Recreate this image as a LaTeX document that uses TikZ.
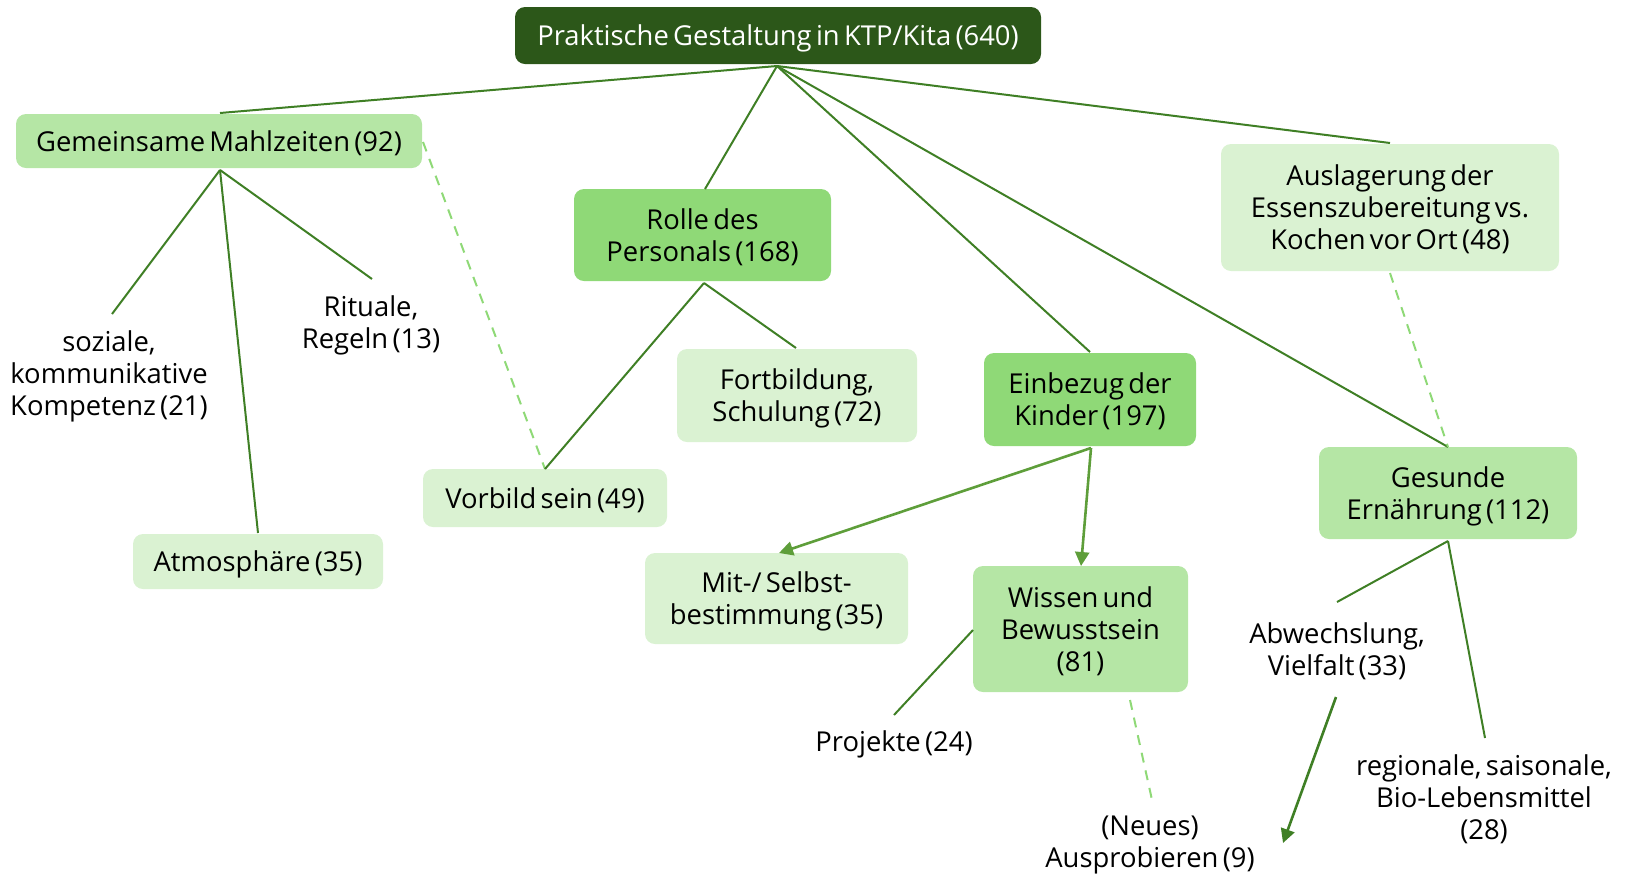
\documentclass[tikz,border=0pt]{standalone}
\usepackage{fontspec}
\setmainfont{Open Sans}[WordSpace=0.6]
\usetikzlibrary{arrows.meta}
\definecolor{rootfill}{HTML}{2C5719}
\definecolor{linecol}{HTML}{3F7F25}
\definecolor{medfill}{HTML}{8FD977}
\definecolor{lightfill}{HTML}{B5E6A5}
\definecolor{palefill}{HTML}{DAF2D2}
\definecolor{arrowcol}{HTML}{5E9E3A}
\definecolor{dashcol}{HTML}{8FD977}
\tikzset{
  box/.style={rounded corners=5pt, align=center, inner sep=0pt,
    font=\fontsize{13.7}{16}\selectfont, text=black, text depth=-0.08em},
  rootbox/.style={box, fill=rootfill, text=white},
  medbox/.style={box, fill=medfill},
  lightbox/.style={box, fill=lightfill},
  palebox/.style={box, fill=palefill},
  plain/.style={align=center, inner sep=0pt, font=\fontsize{13.7}{16}\selectfont},
  link/.style={draw=linecol, line width=1pt},
  dlink/.style={draw=dashcol, line width=1pt, dash pattern=on 5pt off 4pt},
  alink/.style={draw=arrowcol, line width=1.3pt, -{Triangle[length=7pt,width=7pt]}},
  blink/.style={draw=linecol, line width=1.3pt, -{Triangle[length=7pt,width=7pt]}},
}
\begin{document}
\begin{tikzpicture}[x=0.5pt,y=-0.5pt]
\useasboundingbox (0,0) rectangle (1625,874);
% boxes
\node[rootbox, minimum width=263pt, minimum height=28.5pt] (root) at (778,35.5) {Praktische Gestaltung in KTP/Kita (640)};
\node[lightbox, minimum width=203pt, minimum height=27pt] (gem) at (219,141) {Gemeinsame Mahlzeiten (92)};
\node[medbox, minimum width=128.5pt, minimum height=46pt] (rolle) at (702.5,235) {Rolle des\\Personals (168)};
\node[medbox, minimum width=106pt, minimum height=46.5pt] (einb) at (1090,399.5) {Einbezug der\\Kinder (197)};
\node[palebox, minimum width=169pt, minimum height=63.5pt] (ausl) at (1390,207.5) {Auslagerung der\\Essenszubereitung vs.\\Kochen vor Ort (48)};
\node[lightbox, minimum width=129pt, minimum height=46pt] (ges) at (1448,493) {Gesunde\\Ernährung (112)};
\node[palebox, minimum width=120pt, minimum height=46.5pt] (fort) at (797,395.5) {Fortbildung,\\Schulung (72)};
\node[palebox, minimum width=122pt, minimum height=29pt] (vorb) at (545,498) {Vorbild sein (49)};
\node[palebox, minimum width=125pt, minimum height=27.5pt] (atmo) at (258,561.5) {Atmosphäre (35)};
\node[palebox, minimum width=131.5pt, minimum height=45.5pt] (mit) at (776.5,598.5) {Mit-/ Selbst-\\bestimmung (35)};
\node[lightbox, minimum width=107.5pt, minimum height=63pt] (wiss) at (1080.5,629) {Wissen und\\Bewusstsein\\(81)};
% plain labels
\node[plain] (soz) at (109,376) {soziale,\\kommunikative\\Kompetenz (21)};
\node[plain] (rit) at (371,325) {Rituale,\\Regeln (13)};
\node[plain] (proj) at (894,744) {Projekte (24)};
\node[plain] (neu) at (1150,845) {(Neues)\\Ausprobieren (9)};
\node[plain] (abw) at (1337,651) {Abwechslung,\\Vielfalt (33)};
\node[plain] (reg) at (1484,799) {regionale, saisonale,\\Bio-Lebensmittel\\(28)};
% anchor coordinates
\coordinate (rootB) at (777,66);
\coordinate (gemT) at (220,113);
\coordinate (gemB) at (220,170);
\coordinate (gemR) at (423,142);
\coordinate (rolleT) at (705,189);
\coordinate (rolleB) at (704,283);
\coordinate (einbT) at (1090,352);
\coordinate (einbB) at (1091,448);
\coordinate (auslT) at (1390,143);
\coordinate (auslB) at (1390,273);
\coordinate (gesT) at (1448,447);
\coordinate (gesB) at (1448,541);
\coordinate (sozT) at (112,314);
\coordinate (atmoT) at (258,533);
\coordinate (ritT) at (372,279);
\coordinate (vorbT) at (545,469);
\coordinate (fortT) at (796,348);
\coordinate (mitT) at (779,553);
\coordinate (wissT) at (1081,566);
\coordinate (wissL) at (973,630);
\coordinate (wissB) at (1130,700);
\coordinate (projT) at (894,715);
\coordinate (neuT) at (1152,800);
\coordinate (abwT) at (1337,602);
\coordinate (abwB) at (1336,697);
\coordinate (regT) at (1485,738);
\coordinate (neuR) at (1283,843);
% connectors
\draw[link] (rootB) -- (gemT);
\draw[link] (rootB) -- (rolleT);
\draw[link] (rootB) -- (einbT);
\draw[link] (rootB) -- (gesT);
\draw[link] (rootB) -- (auslT);
\draw[link] (gemB) -- (sozT);
\draw[link] (gemB) -- (atmoT);
\draw[link] (gemB) -- (ritT);
\draw[dlink] (gemR) -- (vorbT);
\draw[link] (rolleB) -- (vorbT);
\draw[link] (rolleB) -- (fortT);
\draw[alink] (einbB) -- (mitT);
\draw[alink] (einbB) -- (wissT);
\draw[link] (wissL) -- (projT);
\draw[dlink] (wissB) -- (neuT);
\draw[dlink] (auslB) -- (gesT);
\draw[link] (gesB) -- (abwT);
\draw[link] (gesB) -- (regT);
\draw[blink] (abwB) -- (neuR);
\end{tikzpicture}
\end{document}
